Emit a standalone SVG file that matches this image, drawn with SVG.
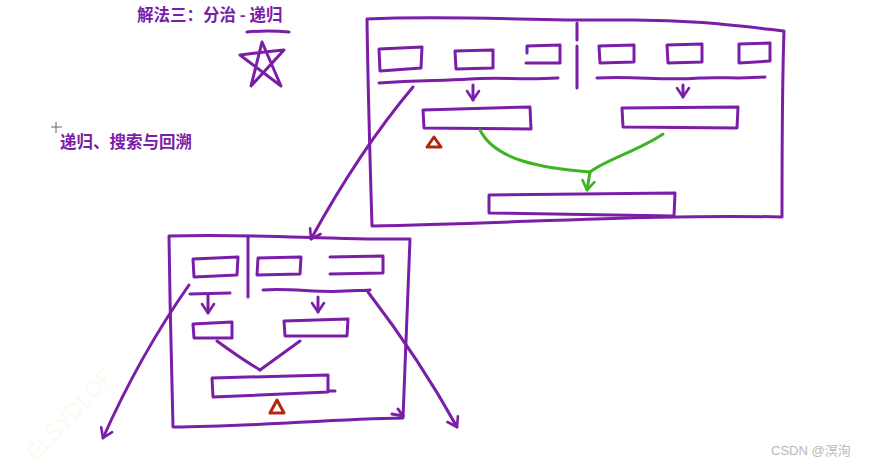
<svg xmlns="http://www.w3.org/2000/svg" width="871" height="466" viewBox="0 0 871 466">
<defs>
<style>
.p{fill:none;stroke:#7a1ea8;stroke-width:3;stroke-linecap:round;stroke-linejoin:round}
.g{fill:none;stroke:#3db523;stroke-width:3;stroke-linecap:round;stroke-linejoin:round}
.r{fill:none;stroke:#b3260f;stroke-width:3;stroke-linecap:round;stroke-linejoin:round}
.t{font-family:"Noto Sans CJK SC","Liberation Sans",sans-serif;font-weight:bold;font-size:16.5px;fill:#7a1ea8}
.wm{font-family:"Liberation Sans","Noto Sans CJK SC",sans-serif;font-size:13px;fill:#b8b8b8}
</style>
<marker id="ap" viewBox="-12 -8 14 16" markerWidth="14" markerHeight="16" refX="0" refY="0" orient="auto" markerUnits="userSpaceOnUse">
<path d="M-9,-6 L0,0 L-9,6" fill="none" stroke="#7a1ea8" stroke-width="2.6" stroke-linecap="round" stroke-linejoin="round"/>
</marker>
<marker id="ag" viewBox="-12 -8 14 16" markerWidth="14" markerHeight="16" refX="0" refY="0" orient="auto" markerUnits="userSpaceOnUse">
<path d="M-9,-6 L0,0 L-9,6" fill="none" stroke="#3db523" stroke-width="2.6" stroke-linecap="round" stroke-linejoin="round"/>
</marker>
</defs>
<rect width="871" height="466" fill="#fff"/>

<g id="title">
<text class="t" x="137" y="21">解法三：分治 - 递归</text>
<path class="p" d="M247,32 Q268,30 289,32"/>
</g>
<g id="star">
<path class="p" d="M251,86 L262,42 L281,86 L240,55 Q262,52 284,50 Z"/>
</g>
<g id="cursor">
<path d="M56,122 V133 M51,127 H62" stroke="#666" stroke-width="1" fill="none"/>
</g>
<g id="subtitle">
<text class="t" x="60" y="148">递归、搜索与回溯</text>
</g>

<g id="topFrame">
<path class="p" d="M367,19 C450,15 540,21 620,20 C690,19 740,26 784,31 C782,90 782,160 782,217 C660,214 520,223 372,226 C370,160 368,90 367,19 Z"/>
<path class="p" d="M577,23 L577,40 M577,46 L577,88"/>
</g>
<g id="topLeaves">
<path class="p" d="M379,49 L422,47 L421,68 L380,71 Z"/>
<path class="p" d="M455,51 L493,50 L493,68 L456,69 Z"/>
<path class="p" d="M527,46 L560,45 L560,63 L526,63 M527,46 L527,53"/>
<path class="p" d="M599,46 L634,45 L634,62 L600,63 Z"/>
<path class="p" d="M667,45 L702,44 L702,62 L668,63 Z"/>
<path class="p" d="M739,44 L770,43 L770,61 L739,63 Z"/>
<path class="p" d="M379,83 C420,80 440,81 470,79 C500,77 520,80 558,78"/>
<path class="p" d="M597,78 C640,76 660,81 700,78 C720,77 745,79 765,77"/>
</g>
<g id="topMerged">
<path class="p" d="M423,110 L530,107 L531,129 L424,128 Z"/>
<path class="p" d="M622,108 L738,107 L737,128 L623,127 Z"/>
<path class="r" d="M434,137 L441,147 L427,147 Z"/>
</g>
<g id="topResult">
<path class="p" d="M489,195 L675,193 L674,216 L489,213 Z"/>
</g>

<g id="lowFrame">
<path class="p" d="M169,236 C250,233 330,240 410,239 C408,300 405,360 403,418 C330,419 250,427 173,427 C171,360 170,300 169,236 Z"/>
<path class="p" d="M248,237 L248,297"/>
<path class="p" d="M392,414 L403,416 L398,409"/>
</g>
<g id="lowLeaves">
<path class="p" d="M193,259 L238,257 L237,275 L194,277 Z"/>
<path class="p" d="M258,258 L301,257 L300,274 L257,275 Z"/>
<path class="p" d="M330,257 L383,256 L383,273 L330,274"/>
<path class="p" d="M190,294 L230,293"/>
<path class="p" d="M263,290 C290,288 320,293 345,291 C355,290 362,291 370,290"/>
</g>
<g id="lowMerged">
<path class="p" d="M193,324 L232,322 L232,338 L194,338 Z"/>
<path class="p" d="M284,321 L348,319 L347,336 L285,336 Z"/>
</g>
<g id="lowResult">
<path class="p" d="M212,378 L328,375 L328,392 L213,397 Z M328,391 L335,391"/>
<path class="r" d="M277,400 L284,413 L270,413 Z"/>
</g>

<g id="connectors">
<path class="p" d="M413,87 Q360,150 311,239" marker-end="url(#ap)"/>
<path class="p" d="M473,85 L473,100" marker-end="url(#ap)"/>
<path class="p" d="M683,85 L683,97" marker-end="url(#ap)"/>
<path class="g" d="M480,130 C495,160 540,168 590,172"/>
<path class="g" d="M663,134 C640,150 605,160 590,172"/>
<path class="g" d="M590,172 L587,190" marker-end="url(#ag)"/>
<path class="p" d="M208,295 L208,313" marker-end="url(#ap)"/>
<path class="p" d="M318,297 L318,312" marker-end="url(#ap)"/>
<path class="p" d="M217,341 Q240,358 260,370"/>
<path class="p" d="M300,341 L260,370"/>
<path class="p" d="M189,285 Q140,355 103,438" marker-end="url(#ap)"/>
<path class="p" d="M368,292 Q420,360 457,427" marker-end="url(#ap)"/>
</g>

<g id="watermarks">
<text x="36" y="462" transform="rotate(-47 36 462)" style="font-family:'Liberation Sans',sans-serif;font-size:22px;fill:#f5fdf0">ELSYDLOF</text>
<text class="wm" x="771" y="455">CSDN @溟洵</text>
</g>
</svg>
